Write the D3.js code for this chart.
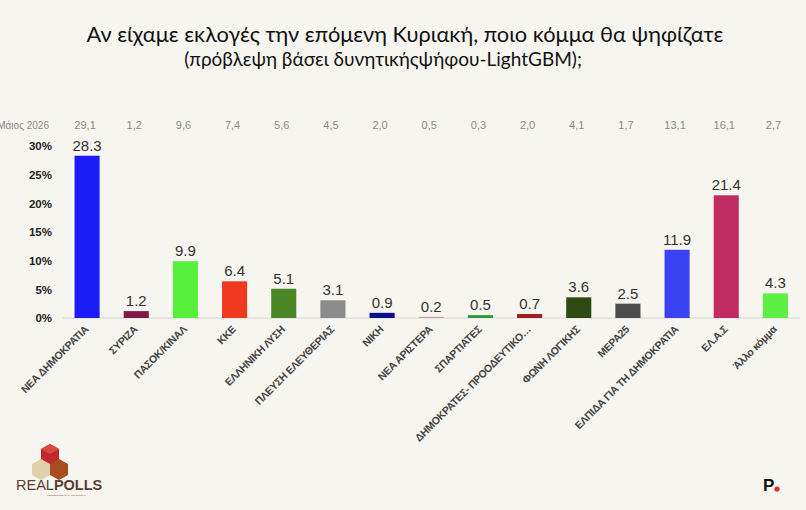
<!DOCTYPE html>
<html lang="el">
<head>
    <meta charset="UTF-8">
    <title>Αν είχαμε εκλογές την επόμενη Κυριακή</title>
    <style>
        body {
            margin: 0;
            background: #f7f5f0;
            font-family: "Liberation Sans", Arial, sans-serif;
        }
        .title {
            font-family: Lato, "Noto Sans", sans-serif;
        }
        .y-axis path,
        .y-axis line {
            display: none;
        }
    </style>
</head>
<body>
    <svg id="chart" width="806" height="510"></svg>

    <script src="https://d3js.org/d3.v7.min.js"></script>
    <script>
        const parties = [
            'ΝΕΑ ΔΗΜΟΚΡΑΤΙΑ', 'ΣΥΡΙΖΑ', 'ΠΑΣΟΚ/ΚΙΝΑΛ', 'ΚΚΕ', 'ΕΛΛΗΝΙΚΗ ΛΥΣΗ',
            'ΠΛΕΥΣΗ ΕΛΕΥΘΕΡΙΑΣ', 'ΝΙΚΗ', 'ΝΕΑ ΑΡΙΣΤΕΡΑ', 'ΣΠΑΡΤΙΑΤΕΣ',
            'ΔΗΜΟΚΡΑΤΕΣ- ΠΡΟΟΔΕΥΤΙΚΟ…', 'ΦΩΝΗ ΛΟΓΙΚΗΣ', 'ΜΕΡΑ25',
            'ΕΛΠΙΔΑ ΓΙΑ ΤΗ ΔΗΜΟΚΡΑΤΙΑ', 'ΕΛ.Α.Σ', 'Άλλο κόμμα'
        ];
        const forecast = [28.3, 1.2, 9.9, 6.4, 5.1, 3.1, 0.9, 0.2, 0.5, 0.7, 3.6, 2.5, 11.9, 21.4, 4.3];
        const previousLabel = 'Μάιος 2026';
        const previous = ['29,1', '1,2', '9,6', '7,4', '5,6', '4,5', '2,0', '0,5', '0,3', '2,0', '4,1', '1,7', '13,1', '16,1', '2,7'];
        const colors = [
            '#1c1cf6', '#7d1a46', '#55ef3c', '#ef3a1f', '#4b8626',
            '#8c8c8c', '#0c0c8e', '#c9a0a0', '#2e9a34', '#a11c1c',
            '#2c4a12', '#4d4d4d', '#3a42f4', '#c02b62', '#5cf044'
        ];
        const yTicks = [0, 5, 10, 15, 20, 25, 30];

        const svg = d3.select('#chart');

        const x = d3.scaleBand().domain(parties).range([62.5, 800]).paddingInner(0.49).paddingOuter(0.245);
        const y = d3.scaleLinear().domain([0, 30]).range([318, 146]);

        // titles
        svg.append('text').attr('class', 'title')
            .attr('x', 405).attr('y', 42)
            .attr('text-anchor', 'middle')
            .attr('font-size', 21.8).attr('fill', '#111')
            .text('Αν είχαμε εκλογές την επόμενη Κυριακή, ποιο κόμμα θα ψηφίζατε');
        svg.append('text').attr('class', 'title')
            .attr('x', 383).attr('y', 66)
            .attr('text-anchor', 'middle')
            .attr('font-size', 19).attr('fill', '#111')
            .text('(πρόβλεψη βάσει δυνητικήςψήφου-LightGBM);');

        // previous poll row
        svg.append('text')
            .attr('x', 49).attr('y', 129)
            .attr('text-anchor', 'end')
            .attr('font-size', 10).attr('fill', '#8a8a8a')
            .text(previousLabel);
        svg.append('g').selectAll('text')
            .data(parties)
            .join('text')
            .attr('x', d => x(d) + x.bandwidth() / 2 - 2)
            .attr('y', 129)
            .attr('text-anchor', 'middle')
            .attr('font-size', 11).attr('fill', '#8a8a8a')
            .text((d, i) => previous[i]);

        // y axis
        const yAxis = svg.append('g').attr('class', 'y-axis')
            .attr('transform', 'translate(56,0)')
            .call(d3.axisLeft(y).tickValues(yTicks).tickSize(0).tickPadding(4).tickFormat(d => d + '%'));
        yAxis.selectAll('text')
            .attr('font-family', '"Liberation Sans", Arial, sans-serif')
            .attr('font-size', 11.5).attr('font-weight', 'bold').attr('fill', '#222');

        // baseline
        svg.append('line')
            .attr('x1', x.range()[0]).attr('x2', x.range()[1])
            .attr('y1', y(0)).attr('y2', y(0))
            .attr('stroke', '#d6d4d0').attr('stroke-width', 1);

        // bars
        svg.append('g').selectAll('rect')
            .data(parties)
            .join('rect')
            .attr('x', d => x(d))
            .attr('y', (d, i) => y(forecast[i]))
            .attr('width', x.bandwidth())
            .attr('height', (d, i) => y(0) - y(forecast[i]))
            .attr('fill', (d, i) => colors[i]);

        // value labels
        svg.append('g').selectAll('text')
            .data(parties)
            .join('text')
            .attr('x', d => x(d) + x.bandwidth() / 2)
            .attr('y', (d, i) => y(forecast[i]) - 5)
            .attr('text-anchor', 'middle')
            .attr('font-size', 15).attr('fill', '#333')
            .text((d, i) => forecast[i].toFixed(1));

        // category labels
        svg.append('g').selectAll('text')
            .data(parties)
            .join('text')
            .attr('transform', d => `translate(${x(d) + x.bandwidth() / 2 + 2},${y(0) + 12}) rotate(-45)`)
            .attr('text-anchor', 'end')
            .attr('font-size', 10.5).attr('font-weight', 'bold').attr('fill', '#444')
            .attr('letter-spacing', -0.3)
            .text(d => d);

        // REALPOLLS logo
        const logo = svg.append('g');
        logo.append('polygon').attr('points', '50,444 59,449 59,462 50,467 41,462 41,449').attr('fill', '#c0282b');
        logo.append('polygon').attr('points', '50,444 59,449 50,454 41,449').attr('fill', '#d94a3e');
        logo.append('polygon').attr('points', '41,459 50,464 50,475 41,480 32,475 32,464').attr('fill', '#e2cfae');
        logo.append('polygon').attr('points', '59,459 68,464 68,475 59,480 50,475 50,464').attr('fill', '#a84c22');
        logo.append('text')
            .attr('x', 16).attr('y', 490)
            .attr('font-size', 14.5).attr('fill', '#5a4030')
            .attr('font-family', '"Liberation Sans", Arial, sans-serif')
            .html('<tspan font-weight="300">REAL</tspan><tspan font-weight="bold">POLLS</tspan>');
        logo.append('text')
            .attr('x', 47).attr('y', 496)
            .attr('font-size', 2.5).attr('fill', '#a04030')
            .text('CONNECTING DATA TO INSIGHT');

        // P. logo
        svg.append('text')
            .attr('x', 763).attr('y', 491)
            .attr('font-size', 17).attr('font-weight', 'bold').attr('fill', '#111')
            .text('P');
        svg.append('circle').attr('cx', 777).attr('cy', 489).attr('r', 2.6).attr('fill', '#e0262b');
    </script>
</body>
</html>
